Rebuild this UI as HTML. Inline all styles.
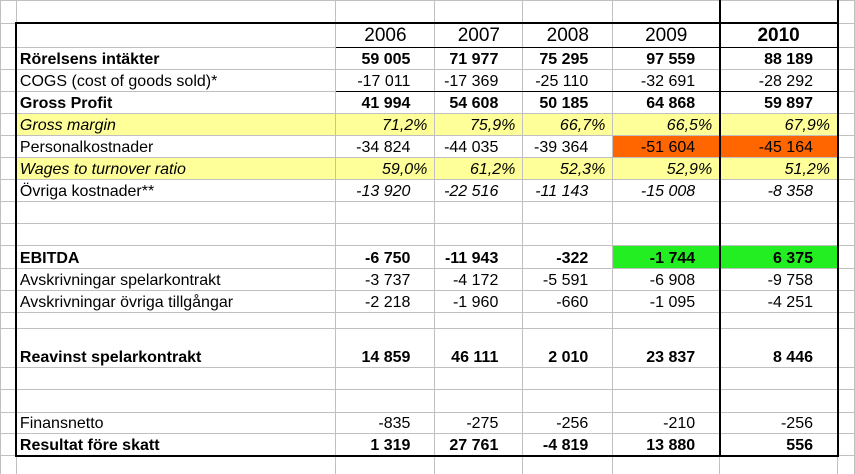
<!DOCTYPE html>
<html><head><meta charset="utf-8"><style>
html,body{margin:0;padding:0;background:#fff;width:855px;height:474px;overflow:hidden;}
body{position:relative;font-family:"Liberation Sans",Arial,sans-serif;font-size:16px;color:#000;}
table{border-collapse:collapse;table-layout:fixed;position:absolute;left:0;top:0;}
td{border:1px solid #c0c0c0;padding:0;white-space:nowrap;overflow:hidden;vertical-align:bottom;line-height:18px;}
td.l{padding-left:3px;}
td.n{text-align:right;padding-right:24px;}
td.p{text-align:right;padding-right:7px;font-style:italic;}
td.h{text-align:center;font-size:19px;line-height:22px;}
.b{font-weight:bold;}
.i{font-style:italic;}
.y{background:#ffff99;}
.o{background:#ff6600;}
.g{background:#22ee22;}
.k{position:absolute;background:#000;}
</style></head><body>
<table>
<colgroup><col style="width:16px"><col style="width:320px"><col style="width:99px"><col style="width:88px"><col style="width:90px"><col style="width:107px"><col style="width:118px"><col style="width:17px"></colgroup>
<tr style="height:23px"><td></td><td></td><td></td><td></td><td></td><td></td><td></td><td></td></tr>
<tr style="height:24px"><td></td><td></td><td class="h">2006</td><td class="h">2007</td><td class="h">2008</td><td class="h">2009</td><td class="h b">2010</td><td></td></tr>
<tr style="height:22px"><td></td><td class="l b">Rörelsens intäkter</td><td class="n b">59 005</td><td class="n b">71 977</td><td class="n b">75 295</td><td class="n b">97 559</td><td class="n b">88 189</td><td></td></tr>
<tr style="height:22px"><td></td><td class="l">COGS (cost of goods sold)*</td><td class="n">-17 011</td><td class="n">-17 369</td><td class="n">-25 110</td><td class="n">-32 691</td><td class="n">-28 292</td><td></td></tr>
<tr style="height:22px"><td></td><td class="l b">Gross Profit</td><td class="n b">41 994</td><td class="n b">54 608</td><td class="n b">50 185</td><td class="n b">64 868</td><td class="n b">59 897</td><td></td></tr>
<tr style="height:22px"><td></td><td class="l i y">Gross margin</td><td class="p y">71,2%</td><td class="p y">75,9%</td><td class="p y">66,7%</td><td class="p y">66,5%</td><td class="p y">67,9%</td><td></td></tr>
<tr style="height:22px"><td></td><td class="l">Personalkostnader</td><td class="n">-34 824</td><td class="n">-44 035</td><td class="n">-39 364</td><td class="n o">-51 604</td><td class="n o">-45 164</td><td></td></tr>
<tr style="height:22px"><td></td><td class="l i y">Wages to turnover ratio</td><td class="p y">59,0%</td><td class="p y">61,2%</td><td class="p y">52,3%</td><td class="p y">52,9%</td><td class="p y">51,2%</td><td></td></tr>
<tr style="height:22px"><td></td><td class="l">Övriga kostnader**</td><td class="n i">-13 920</td><td class="n i">-22 516</td><td class="n i">-11 143</td><td class="n i">-15 008</td><td class="n i">-8 358</td><td></td></tr>
<tr style="height:22px"><td></td><td></td><td></td><td></td><td></td><td></td><td></td><td></td></tr>
<tr style="height:22px"><td></td><td></td><td></td><td></td><td></td><td></td><td></td><td></td></tr>
<tr style="height:23px"><td></td><td class="l b">EBITDA</td><td class="n b">-6 750</td><td class="n b">-11 943</td><td class="n b">-322</td><td class="n b g">-1 744</td><td class="n b g">6 375</td><td></td></tr>
<tr style="height:22px"><td></td><td class="l">Avskrivningar spelarkontrakt</td><td class="n">-3 737</td><td class="n">-4 172</td><td class="n">-5 591</td><td class="n">-6 908</td><td class="n">-9 758</td><td></td></tr>
<tr style="height:22px"><td></td><td class="l">Avskrivningar övriga tillgångar</td><td class="n">-2 218</td><td class="n">-1 960</td><td class="n">-660</td><td class="n">-1 095</td><td class="n">-4 251</td><td></td></tr>
<tr style="height:16px"><td></td><td></td><td></td><td></td><td></td><td></td><td></td><td></td></tr>
<tr style="height:39px"><td></td><td class="l b">Reavinst spelarkontrakt</td><td class="n b">14 859</td><td class="n b">46 111</td><td class="n b">2 010</td><td class="n b">23 837</td><td class="n b">8 446</td><td></td></tr>
<tr style="height:22px"><td></td><td></td><td></td><td></td><td></td><td></td><td></td><td></td></tr>
<tr style="height:23px"><td></td><td></td><td></td><td></td><td></td><td></td><td></td><td></td></tr>
<tr style="height:21px"><td></td><td class="l">Finansnetto</td><td class="n">-835</td><td class="n">-275</td><td class="n">-256</td><td class="n">-210</td><td class="n">-256</td><td></td></tr>
<tr style="height:22px"><td></td><td class="l b">Resultat före skatt</td><td class="n b">1 319</td><td class="n b">27 761</td><td class="n b">-4 819</td><td class="n b">13 880</td><td class="n b">556</td><td></td></tr>
<tr style="height:19px"><td></td><td></td><td></td><td></td><td></td><td></td><td></td><td></td></tr>
</table>
<div class="k" style="left:15px;top:22px;width:824px;height:2px"></div>
<div class="k" style="left:15px;top:22px;width:2px;height:435px"></div>
<div class="k" style="left:15px;top:455px;width:824px;height:2px"></div>
<div class="k" style="left:719px;top:0;width:2px;height:457px"></div>
<div class="k" style="left:837px;top:0;width:2px;height:457px"></div>
<div class="k" style="left:336px;top:47px;width:502px;height:1px"></div>
<div class="k" style="left:336px;top:91px;width:502px;height:1px"></div>
</body></html>
